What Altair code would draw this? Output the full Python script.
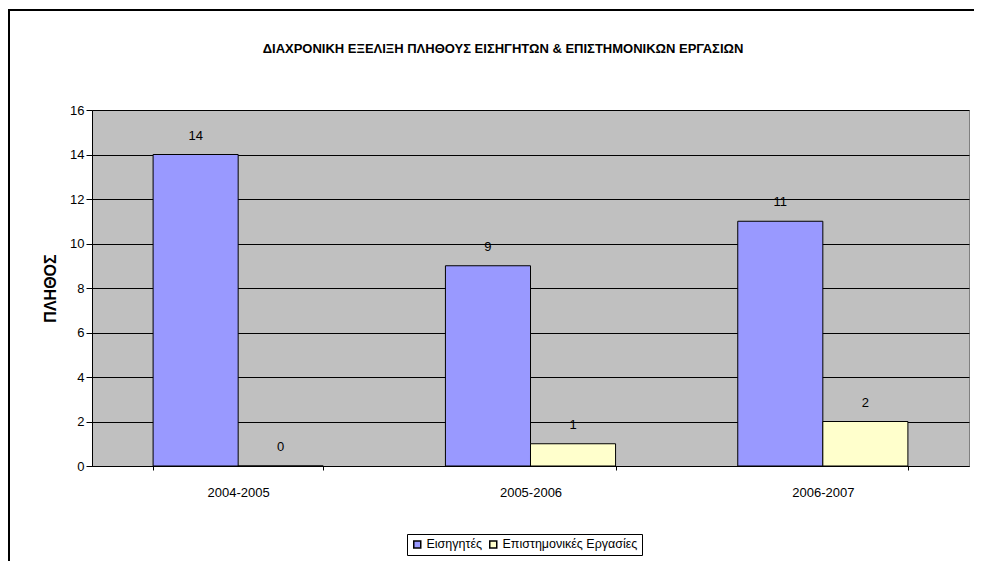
import altair as alt
import pandas as pd

periods = ["2004-2005", "2005-2006", "2006-2007"]
series = ["Εισηγητές", "Επιστημονικές Εργασίες"]
eisigites = [14, 9, 11]
ergasies = [0, 1, 2]
colors = ["#9999FF", "#FFFFCC"]
title_text = "ΔΙΑΧΡΟΝΙΚΗ ΕΞΕΛΙΞΗ ΠΛΗΘΟΥΣ ΕΙΣΗΓΗΤΩΝ & ΕΠΙΣΤΗΜΟΝΙΚΩΝ ΕΡΓΑΣΙΩΝ"
y_title = "ΠΛΗΘΟΣ"
y_ticks = [0, 2, 4, 6, 8, 10, 12, 14, 16]

rows = []
for i, p in enumerate(periods):
    rows.append({"period": p, "series": series[0], "value": eisigites[i]})
    rows.append({"period": p, "series": series[1], "value": ergasies[i]})
df = pd.DataFrame(rows)

FONT = "Liberation Sans"
FS = 13

x_enc = alt.X("period:N", sort=periods, title=None,
              scale=alt.Scale(paddingInner=0.418, paddingOuter=0.209),
              axis=alt.Axis(labelAngle=0, tickBand="extent", tickSize=4,
                            labelPadding=16, grid=False, domainColor="black",
                            tickColor="black", labelFont=FONT, labelFontSize=FS,
                            labelColor="black"))
xoff_enc = alt.XOffset("series:N", sort=series,
                       scale=alt.Scale(paddingInner=0, paddingOuter=0))
y_enc = alt.Y("value:Q", title=y_title,
              scale=alt.Scale(domain=[0, 16], nice=False),
              axis=alt.Axis(values=y_ticks, tickSize=6, labelPadding=2,
                            grid=True, gridColor="black", gridWidth=1,
                            domainColor="black", tickColor="black",
                            labelFont=FONT, labelFontSize=FS, labelColor="black",
                            titleFont=FONT, titleFontSize=16, titleFontWeight="bold",
                            titleColor="black", titlePadding=11))

base = alt.Chart(df)

bars = base.mark_bar(stroke="black", strokeWidth=1).encode(
    x=x_enc,
    xOffset=xoff_enc,
    y=y_enc,
    color=alt.Color("series:N", sort=series,
                    scale=alt.Scale(domain=series, range=colors),
                    legend=alt.Legend(title=None, orient="none", legendX=315, legendY=424,
                                      direction="horizontal", symbolType="square",
                                      symbolSize=49, symbolStrokeColor="black",
                                      symbolStrokeWidth=1.5, labelFont=FONT,
                                      labelFontSize=12.5, labelColor="black",
                                      strokeColor="black", fillColor="white",
                                      padding=4, columnPadding=3, labelOffset=3)),
)

labels = base.mark_text(font=FONT, fontSize=FS, color="black", baseline="middle", dy=-19).encode(
    x=alt.X("period:N", sort=periods),
    xOffset=alt.XOffset("series:N", sort=series),
    y=alt.Y("value:Q"),
    text=alt.Text("value:Q"),
)

title_df = pd.DataFrame({"t": [title_text]})
title_mark = alt.Chart(title_df).mark_text(
    font=FONT, fontSize=13, fontWeight="bold", color="black",
    align="center", baseline="middle"
).encode(x=alt.value(411), y=alt.value(-61), text="t:N")

frame_df = pd.DataFrame({"a": [0]})
top_line = alt.Chart(frame_df).mark_rule(color="black", strokeWidth=2).encode(
    x=alt.value(-84), x2=alt.value(890), y=alt.value(-100))
left_line = alt.Chart(frame_df).mark_rule(color="black", strokeWidth=2).encode(
    x=alt.value(-83), y=alt.value(-101), y2=alt.value(460))

chart = alt.layer(bars, labels, title_mark, top_line, left_line).properties(
    width=877,
    height=356,
    background="white",
    autosize=alt.AutoSizeParams(type="none"),
    padding={"left": 84, "top": 102, "right": 5, "bottom": 95},
).configure_view(
    fill="#C0C0C0", stroke="#808080", strokeWidth=1
)

chart.save("out.html", embed_options={"renderer": "svg", "actions": False})
